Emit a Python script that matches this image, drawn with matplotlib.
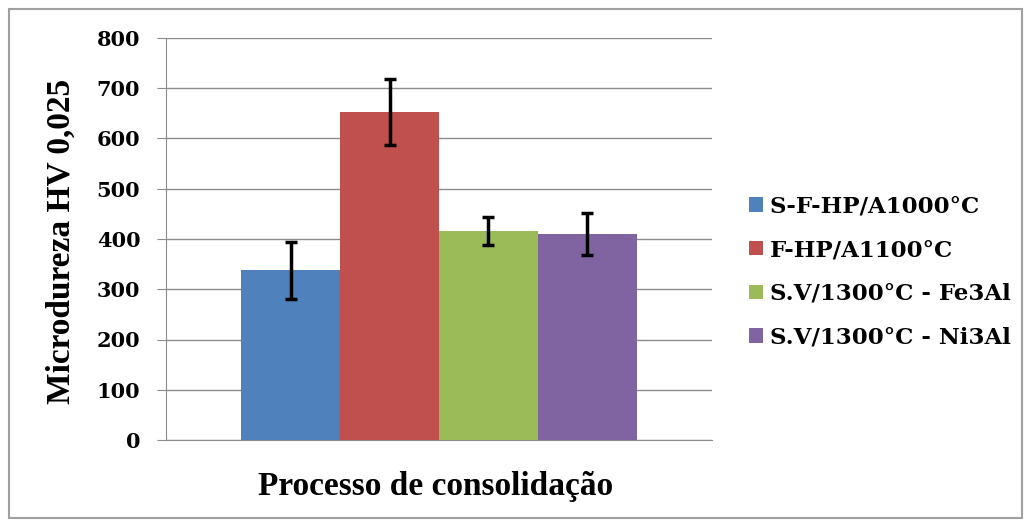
import matplotlib.pyplot as plt
from matplotlib.patches import Patch, Rectangle

plt.rcParams['font.family'] = ['Liberation Serif', 'DejaVu Serif']
plt.rcParams['font.weight'] = 'bold'

labels = ['S-F-HP/A1000°C', 'F-HP/A1100°C', 'S.V/1300°C - Fe3Al', 'S.V/1300°C - Ni3Al']
values = [338, 653, 416, 410]
errors = [57, 65, 27, 41]
colors = ['#4F81BD', '#C0504D', '#9BBB59', '#8064A2']

W, H = 1025, 529
fig = plt.figure(figsize=(W / 100, H / 100), dpi=100)
ax = fig.add_axes([166 / W, 1 - 440 / H, (712 - 166) / W, (440 - 38) / H])

xs = range(len(values))
ax.bar(xs, values, width=1.0, color=colors, yerr=errors,
       error_kw=dict(ecolor='black', elinewidth=2.5, capsize=4.3, capthick=2.5),
       zorder=3)

ax.set_xlim(-1.258, 4.258)
ax.set_ylim(0, 800)
ax.set_yticks(range(0, 801, 100))
ax.set_xticks([])
ax.yaxis.grid(True, color='#8c8c8c', linewidth=1)
ax.set_axisbelow(True)
for s in ['top', 'right']:
    ax.spines[s].set_visible(False)
ax.spines['left'].set_color('#8c8c8c')
ax.spines['bottom'].set_color('#8c8c8c')
ax.tick_params(axis='y', length=6.5, color='#8c8c8c', pad=12)
for t in ax.get_yticklabels():
    t.set_fontfamily('DejaVu Serif')
    t.set_fontsize(15)
    t.set_fontweight('bold')

fig.text(61 / W, 1 - 241 / H, 'Microdureza HV 0,025', rotation=90,
         ha='center', va='center', fontsize=24, fontweight='bold')
fig.text(436 / W, 1 - 487 / H, 'Processo de consolidação',
         ha='center', va='center', fontsize=24, fontweight='bold')

# legenda a direita, sem moldura
handles = [Patch(facecolor=c) for c in colors]
fig.legend(handles, labels, loc='center left', bbox_to_anchor=(749 / W, 1 - 272 / H),
           frameon=False, prop=dict(family='DejaVu Serif', size=16.5, weight='bold'),
           handlelength=0.6, handleheight=0.6, handletextpad=0.3, labelspacing=0.95,
           borderaxespad=0, borderpad=0)

fig.patches.append(Rectangle((9 / W, 1 - 518 / H), 1013 / W, 509 / H,
                             transform=fig.transFigure, fill=False,
                             edgecolor='#a0a0a0', linewidth=1.5))

fig.savefig('out.png', dpi=100)
